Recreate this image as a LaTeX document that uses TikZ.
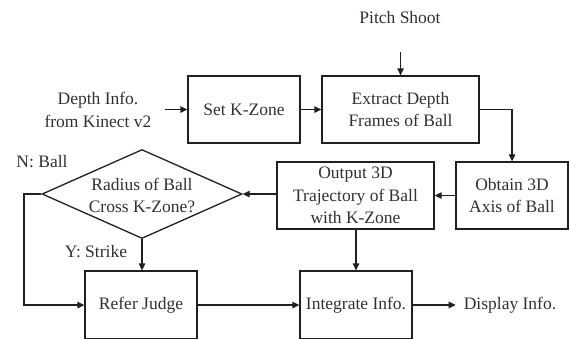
\documentclass[tikz,border=0pt]{standalone}
\usepackage{fontspec}
\setmainfont{Liberation Serif}
\usetikzlibrary{shapes.geometric,arrows.meta}
\definecolor{txt}{HTML}{303030}
\definecolor{ln}{HTML}{202020}
\begin{document}
\begin{tikzpicture}[x=1pt,y=-1pt,
  every node/.style={font=\fontsize{17.5}{22.5}\selectfont, text=txt, align=center, inner sep=0pt},
  box/.style={draw=ln, line width=1.3pt, rectangle},
  arr/.style={draw=ln, line width=1.3pt, -{Triangle[length=7pt,width=6.5pt]}},
  ln/.style={draw=ln, line width=1.3pt}]
\useasboundingbox (0,0) rectangle (569,338);
\clip (0,0) rectangle (569,338);
% nodes
\node (depth) at (98,110) {Depth Info.\\from Kinect v2};
\node[box, minimum width=112, minimum height=67] (setk) at (244,109.5) {Set K-Zone};
\node[box, minimum width=157, minimum height=67] (extract) at (400.5,109.5) {Extract Depth\\Frames of Ball};
\node (pitch) at (400,18) {Pitch Shoot};
\node[box, minimum width=112, minimum height=67] (obtain) at (512,195.5) {Obtain 3D\\Axis of Ball};
\node[box, minimum width=157, minimum height=67] (output) at (355.5,195.5) {Output 3D\\Trajectory of Ball\\with K-Zone};
\node[diamond, draw=ln, line width=1.3pt, minimum width=200, minimum height=89] (dia) at (142,194) {};
\node (diatext) at (142,195.5) {Radius of Ball\\Cross K-Zone?};
\node[box, minimum width=112, minimum height=68] (refer) at (141,305) {Refer Judge};
\node[box, minimum width=112, minimum height=68] (integ) at (356,305) {Integrate Info.};
\node (display) at (510,305) {Display Info.};
\node (nball) at (42,162) {N: Ball};
\node (ystrike) at (96,252) {Y: Strike};
\coordinate (nturn) at (24,194);
% connectors
\draw[arr, shorten <=13pt] (depth.east |- setk.west) -- (setk.west);
\draw[arr] (setk.east) -- (extract.west);
\draw[arr, shorten <=28pt] (pitch.south -| extract.north) -- (extract.north);
\draw[arr] (extract.east) -| (obtain.north);
\draw[arr] (obtain.west) -- (output.east);
\draw[arr] (output.west |- dia.east) -- (dia.east);
\draw[arr] (dia.south) -- (dia.south |- refer.north);
\draw[arr] (dia.west) -- (nturn) |- (refer.west);
\draw[arr] (refer.east) -- (integ.west);
\draw[arr] (output.south -| integ.north) -- (integ.north);
\draw[arr, shorten >=8pt] (integ.east) -- (display.west);
\end{tikzpicture}
\end{document}
